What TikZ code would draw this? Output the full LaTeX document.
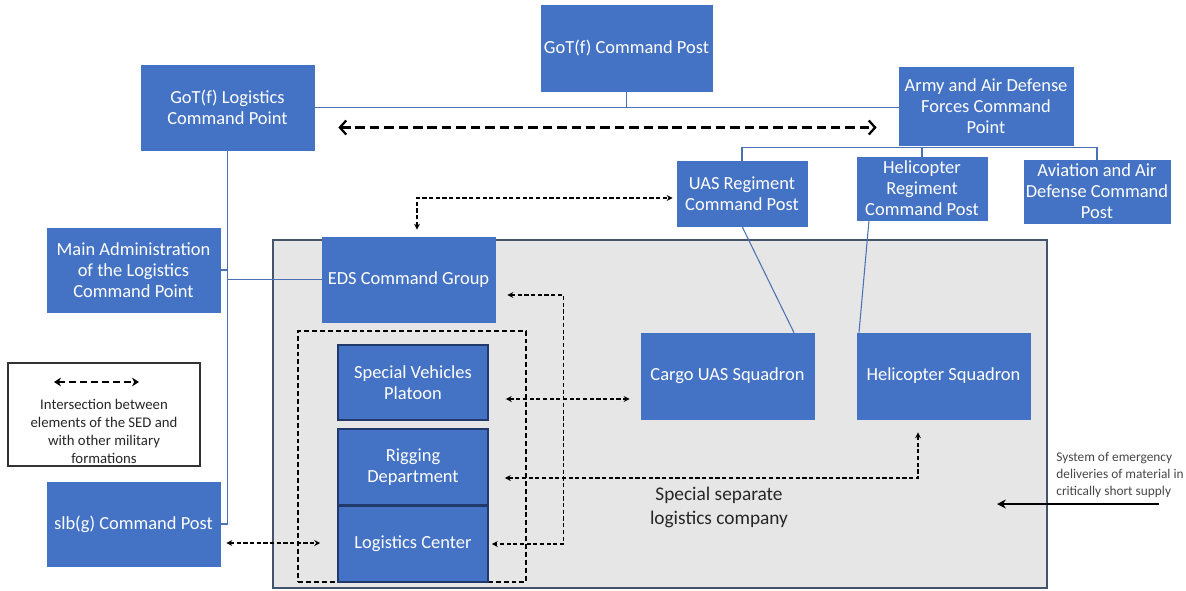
\documentclass[tikz,border=0pt]{standalone}
\usepackage{fontspec}
\setmainfont{Carlito}
\usepackage{tikz}
\usetikzlibrary{arrows.meta, positioning, calc}
\definecolor{cblue}{HTML}{4472C4}
\definecolor{cnavy}{HTML}{22396B}
\definecolor{cgray}{HTML}{E7E6E6}
\definecolor{cslate}{HTML}{44546A}
\definecolor{clink}{HTML}{4A70B5}
\definecolor{ctext}{HTML}{262626}
\tikzset{
  ubox/.style={fill=cblue, draw=cblue, text=white, align=center, inner sep=0pt,
               font=\fontsize{10.5}{12}\selectfont},
  stackbox/.style={ubox, draw=cnavy, line width=0.9pt},
  coy/.style={fill=cgray, draw=cslate, line width=0.9pt},
  grp/.style={draw=black, dash pattern=on 2.8pt off 1.7pt, line width=0.7pt},
  link/.style={draw=clink, line width=0.6pt},
  dlink/.style={<->, >={Stealth[length=3.4pt,width=3.4pt]}, dash pattern=on 2.4pt off 1.4pt, line width=0.6pt},
  bigdash/.style={<->, >={Straight Barb[length=3.6pt,width=8pt]}, dash pattern=on 5.4pt off 2.8pt, line width=1.3pt},
  notetext/.style={align=left, inner sep=0pt, text=ctext!85, font=\fontsize{7.6}{9.6}\selectfont},
}

\begin{document}
\begin{tikzpicture}
  \useasboundingbox (0,0) rectangle (23.72,-11.8);

  %% company area and the dashed group inside it
  \node[coy, minimum width=15.48cm, minimum height=6.96cm] (coy) at (13.2,-8.28) {};
  \node[grp, minimum width=4.56cm, minimum height=5.02cm] (grp) at (8.24,-9.13) {};
  \node[align=center, text=ctext, font=\fontsize{11}{14}\selectfont] (coylbl) at (14.38,-10.15) {Special separate\\logistics company};

  %% upper command level
  \node[ubox, minimum width=3.42cm, minimum height=1.72cm] (gotcp) at (12.53,-0.96) {GoT(f) Command Post};
  \node[ubox, minimum width=3.46cm, minimum height=1.70cm] (gotlog) at (4.55,-2.15) {GoT(f) Logistics\\Command Point};
  \node[ubox, minimum width=3.48cm, minimum height=1.56cm] (army) at (19.72,-2.12) {Army and Air Defense\\Forces Command\\Point};

  %% regiments under the army command
  \node[ubox, minimum width=2.60cm, minimum height=1.30cm] (uasreg) at (14.84,-3.87) {UAS Regiment\\Command Post};
  \node[ubox, minimum width=2.60cm, minimum height=1.26cm] (helireg) at (18.44,-3.77) {Helicopter\\Regiment\\Command Post};
  \node[ubox, minimum width=2.92cm, minimum height=1.26cm] (avia) at (21.94,-3.83) {Aviation and Air\\Defense Command\\Post};

  %% logistics side
  \node[ubox, minimum width=3.46cm, minimum height=1.68cm] (mainadm) at (2.67,-5.40) {Main Administration\\of the Logistics\\Command Point};
  \node[ubox, minimum width=3.46cm, minimum height=1.68cm] (slb) at (2.67,-10.48) {slb(g) Command Post};
  \node[ubox, minimum width=3.46cm, minimum height=1.70cm] (eds) at (8.17,-5.59) {EDS Command Group};

  %% units of the company
  \node[stackbox, minimum width=3.00cm, minimum height=1.50cm] (svp) at (8.26,-7.65) {Special Vehicles\\Platoon};
  \node[stackbox, minimum width=3.00cm, minimum height=1.52cm] (rig) at (8.26,-9.34) {Rigging\\Department};
  \node[stackbox, minimum width=3.00cm, minimum height=1.52cm] (logc) at (8.26,-10.88) {Logistics Center};
  \node[ubox, minimum width=3.46cm, minimum height=1.72cm] (cargo) at (14.55,-7.52) {Cargo UAS Squadron};
  \node[ubox, minimum width=3.46cm, minimum height=1.72cm] (helisq) at (18.87,-7.52) {Helicopter Squadron};

  %% command links
  \draw[link] (gotlog.east) -- (gotlog.east -| army.west);
  \draw[link] (gotcp.south) -- (gotcp.south |- gotlog.east);
  \coordinate (armybr) at ([yshift=-0.04cm]army.south);
  \draw[link] (uasreg.north) |- (armybr) -| (avia.north);
  \draw[link] (helireg.north) -- (helireg.north |- armybr);
  \draw[link] (uasreg.south) -- ([xshift=1.33cm]cargo.north);
  \draw[link] ([xshift=-1.06cm]helireg.south) -- ([xshift=-1.69cm]helisq.north);
  \draw[link] (gotlog.south) |- (slb.east);
  \draw[link] (mainadm.east) -- (mainadm.east -| gotlog.south);
  \draw[link] (eds.west) -- (eds.west -| gotlog.south);

  %% interaction between elements
  \draw[bigdash, shorten <=0.48cm, shorten >=0.44cm] ([yshift=-0.4cm]gotlog.east) -- ([yshift=-0.4cm]gotlog.east -| army.west);
  \draw[dlink, shorten <=0.14cm, shorten >=0.08cm] ([xshift=0.17cm]eds.north) |- ([yshift=-0.09cm]uasreg.west);
  \draw[dlink, shorten <=0.24cm, shorten >=0.06cm] ([yshift=-0.31cm]eds.east) -- ++(1.36,0) |- (logc.east);
  \draw[dlink, shorten <=0.34cm, shorten >=0.22cm] ([yshift=-0.33cm]svp.east) -- ([yshift=-0.33cm]svp.east -| cargo.west);
  \draw[dlink, shorten <=0.32cm, shorten >=0.26cm] ([yshift=-0.22cm]rig.east) -| ([xshift=-0.51cm]helisq.south);
  \draw[dlink, shorten <=0.12cm, shorten >=0.34cm] ([yshift=-0.38cm]slb.east) -- ([yshift=-0.38cm]slb.east -| logc.west);

  %% legend
  \node[draw=black!80, line width=0.7pt, minimum width=3.84cm, minimum height=2.06cm] (legend) at (2.08,-8.29) {};
  \coordinate (legl) at (1.08,-7.64);
  \coordinate (legr) at (2.78,-7.64);
  \draw[<->, >={Stealth[length=4pt,width=5pt]}, dash pattern=on 4pt off 2.2pt, line width=1.2pt] (legl) -- (legr);
  \node[align=center, text=ctext, font=\fontsize{8.4}{10.2}\selectfont] (legtxt) at (2.08,-8.63) {Intersection between\\elements of the SED and\\with other military\\formations};

  %% emergency deliveries
  \node[notetext, anchor=west] (note) at (21.12,-9.5) {System of emergency\\deliveries of material in\\critically short supply};
  \coordinate (notetail) at (23.18,-10.08);
  \coordinate (notehead) at (19.94,-10.08);
  \draw[-{Stealth[length=5pt,width=5pt]}, line width=1.2pt] (notetail) -- (notehead);

\end{tikzpicture}
\end{document}
